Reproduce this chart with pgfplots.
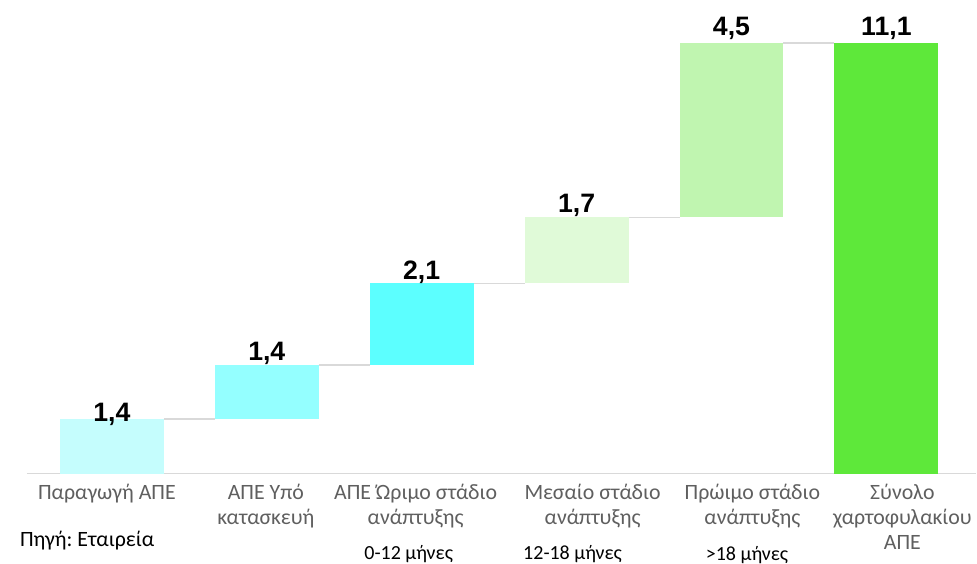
\documentclass[border=0pt]{standalone}
\usepackage{pgfplots}
\pgfplotsset{compat=1.18}
\usepackage{fontspec}
\setmainfont{Carlito}
\newfontfamily\valfont{Liberation Sans}
\frenchspacing
\definecolor{c1}{RGB}{197,253,253}
\definecolor{c2}{RGB}{148,255,255}
\definecolor{c3}{RGB}{92,255,255}
\definecolor{c4}{RGB}{224,250,216}
\definecolor{c5}{RGB}{192,245,176}
\definecolor{c6}{RGB}{94,232,58}
\definecolor{lgray}{RGB}{217,217,217}
\definecolor{tgray}{RGB}{95,95,95}
\tikzset{val/.style={anchor=base, inner sep=0pt, text=black, font=\valfont\bfseries\fontsize{20}{24}\selectfont}}
\begin{document}
\begin{tikzpicture}
\begin{axis}[
  scale only axis, width=712.5pt, height=355.5pt,
  xmin=-0.548, xmax=5.58, ymin=0, ymax=12.2,
  ybar stacked, bar width=0.671,
  axis x line*=bottom, axis y line=none,
  x axis line style={draw=lgray, line width=1.1pt},
  xtick={-0.032,0.994,1.961,3.103,4.135,5.103},
  major tick length=0pt,
  xticklabels={Παραγωγή ΑΠΕ, {ΑΠΕ Υπό\\κατασκευή}, {ΑΠΕ Ώριμο στάδιο\\ανάπτυξης}, {Μεσαίο στάδιο\\ανάπτυξης}, {Πρώιμο στάδιο\\ανάπτυξης}, {Σύνολο\\χαρτοφυλακίου\\ΑΠΕ}},
  xticklabel style={align=center, text=tgray, font=\fontsize{16.4}{18.6}\selectfont, anchor=north, inner sep=0pt, yshift=-8pt},
  ytick=\empty,
  clip=false,
]
\addplot[fill=none, draw=none] coordinates {(0,0) (1,1.4) (2,2.8) (3,4.9) (4,6.6) (5,0)};
\addplot[fill=c1, draw=none] coordinates {(0,1.4) (1,0) (2,0) (3,0) (4,0) (5,0)};
\addplot[fill=c2, draw=none] coordinates {(0,0) (1,1.4) (2,0) (3,0) (4,0) (5,0)};
\addplot[fill=c3, draw=none] coordinates {(0,0) (1,0) (2,2.1) (3,0) (4,0) (5,0)};
\addplot[fill=c4, draw=none] coordinates {(0,0) (1,0) (2,0) (3,1.7) (4,0) (5,0)};
\addplot[fill=c5, draw=none] coordinates {(0,0) (1,0) (2,0) (3,0) (4,4.5) (5,0)};
\addplot[fill=c6, draw=none] coordinates {(0,0) (1,0) (2,0) (3,0) (4,0) (5,11.1)};
% connectors
\addplot[sharp plot, stack plots=false, draw=lgray, line width=1.2pt, fill=none] coordinates {(0.3355,1.4) (0.6645,1.4)};
\addplot[sharp plot, stack plots=false, draw=lgray, line width=1.2pt, fill=none] coordinates {(1.3355,2.8) (1.6645,2.8)};
\addplot[sharp plot, stack plots=false, draw=lgray, line width=1.2pt, fill=none] coordinates {(2.3355,4.9) (2.6645,4.9)};
\addplot[sharp plot, stack plots=false, draw=lgray, line width=1.2pt, fill=none] coordinates {(3.3355,6.6) (3.6645,6.6)};
\addplot[sharp plot, stack plots=false, draw=lgray, line width=1.2pt, fill=none] coordinates {(4.3355,11.1) (4.6645,11.1)};
\coordinate (l1) at (axis cs:0,1.4);
\coordinate (l2) at (axis cs:1,2.8);
\coordinate (l3) at (axis cs:2,4.9);
\coordinate (l4) at (axis cs:3,6.6);
\coordinate (l5) at (axis cs:4,11.1);
\coordinate (l6) at (axis cs:5,11.1);
\node[anchor=west, font=\fontsize{16.4}{19}\selectfont, inner sep=0pt] at ([yshift=-50pt]axis cs:-0.594,0) {Πηγή: Εταιρεία};
\node[font=\fontsize{15}{17}\selectfont, inner sep=0pt] at ([yshift=-60pt]axis cs:1.916,0) {0-12 μήνες};
\node[font=\fontsize{15}{17}\selectfont, inner sep=0pt] at ([yshift=-60.5pt]axis cs:2.974,0) {12-18 μήνες};
\node[font=\fontsize{15}{17}\selectfont, inner sep=0pt] at ([yshift=-61pt]axis cs:4.10,0) {>18 μήνες};
\end{axis}
\node[val, yshift=-1.5pt] at (l1) {1,4};
\node[val, yshift=3pt] at (l2) {1,4};
\node[val, yshift=3pt] at (l3) {2,1};
\node[val, yshift=4pt] at (l4) {1,7};
\node[val, yshift=5.25pt] at (l5) {4,5};
\node[val, yshift=5.25pt] at (l6) {11,1};
\path[use as bounding box] ([xshift=-20.25pt,yshift=-66pt]current axis.south west) rectangle (current axis.north east);
\end{tikzpicture}
\end{document}
